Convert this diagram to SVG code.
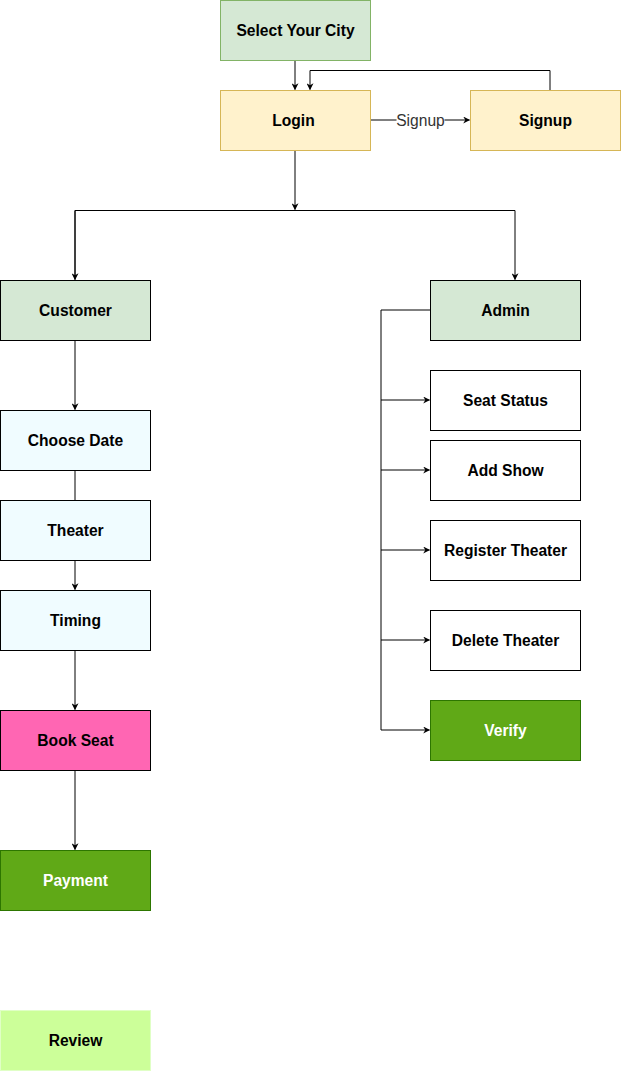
<svg xmlns="http://www.w3.org/2000/svg" width="621" height="1071" viewBox="0 0 621 1071">
<defs>
<style>
.t{font-family:"Liberation Sans",Arial,sans-serif;font-size:15.6px;font-weight:bold;text-anchor:middle;dominant-baseline:central;fill:#000}
.w{fill:#fff}
.c{fill:none;stroke:#000;stroke-width:1}
.lbl{font-family:"Liberation Sans",Arial,sans-serif;font-size:15.6px;text-anchor:middle;dominant-baseline:central;fill:#333}
</style>
<marker id="a" viewBox="0 0 10 10" refX="9" refY="5" markerWidth="7" markerHeight="7" markerUnits="userSpaceOnUse" orient="auto">
<path d="M0,0 L10,5 L0,10 L3,5 Z" fill="#000"/>
</marker>
</defs>
<rect width="621" height="1071" fill="#fff"/>
<g id="connectors" transform="translate(0.5,0.5)">
<path class="c" d="M294.5,60 V89" marker-end="url(#a)"/>
<path class="c" d="M549.5,90 V70 H309.5 V89" marker-end="url(#a)"/>
<path class="c" d="M370,119.5 H469" marker-end="url(#a)"/>
<rect x="396" y="111" width="48" height="18" fill="#fff"/>
<text class="lbl" x="420" y="120">Signup</text>
<path class="c" d="M294.5,150 V209" marker-end="url(#a)"/>
<path class="c" d="M74.5,279 V210 H514.5 V279" marker-end="url(#a)"/>
<path class="c" d="M74.5,210 V279" marker-end="url(#a)"/>
<path class="c" d="M74.5,340 V409" marker-end="url(#a)"/>
<path class="c" d="M74.5,470 V500"/>
<path class="c" d="M74.5,560 V589" marker-end="url(#a)"/>
<path class="c" d="M74.5,650 V709" marker-end="url(#a)"/>
<path class="c" d="M74.5,770 V849" marker-end="url(#a)"/>
<path class="c" d="M430,309.5 H380.5 V729.5 H429" marker-end="url(#a)"/>
<path class="c" d="M380.5,399.5 H429" marker-end="url(#a)"/>
<path class="c" d="M380.5,469.5 H429" marker-end="url(#a)"/>
<path class="c" d="M380.5,549.5 H429" marker-end="url(#a)"/>
<path class="c" d="M380.5,639.5 H429" marker-end="url(#a)"/>
</g>
<g transform="translate(0.5,0.5)">
<g id="select-city"><rect x="220" y="0" width="150" height="60" fill="#d5e8d4" stroke="#82b366"/><text class="t" x="295" y="30">Select Your City</text></g>
<g id="login"><rect x="220" y="90" width="150" height="60" fill="#fff2cc" stroke="#d6b656"/><text class="t" x="293" y="120">Login</text></g>
<g id="signup"><rect x="470" y="90" width="150" height="60" fill="#fff2cc" stroke="#d6b656"/><text class="t" x="545" y="120">Signup</text></g>
<g id="customer"><rect x="0" y="280" width="150" height="60" fill="#d5e8d4" stroke="#000"/><text class="t" x="75" y="310">Customer</text></g>
<g id="admin"><rect x="430" y="280" width="150" height="60" fill="#d5e8d4" stroke="#000"/><text class="t" x="505" y="310">Admin</text></g>
<g id="choose-date"><rect x="0" y="410" width="150" height="60" fill="#f0fcff" stroke="#000"/><text class="t" x="75" y="440">Choose Date</text></g>
<g id="theater"><rect x="0" y="500" width="150" height="60" fill="#f0fcff" stroke="#000"/><text class="t" x="75" y="530">Theater</text></g>
<g id="timing"><rect x="0" y="590" width="150" height="60" fill="#f0fcff" stroke="#000"/><text class="t" x="75" y="620">Timing</text></g>
<g id="book-seat"><rect x="0" y="710" width="150" height="60" fill="#ff66b3" stroke="#000"/><text class="t" x="75" y="740">Book Seat</text></g>
<g id="payment"><rect x="0" y="850" width="150" height="60" fill="#60a917" stroke="#2d7600"/><text class="t w" x="75" y="880">Payment</text></g>
<g id="review"><rect x="0" y="1010" width="150" height="60" fill="#ccff99" stroke="#e0ffc6"/><text class="t" x="75" y="1040">Review</text></g>
<g id="seat-status"><rect x="430" y="370" width="150" height="60" fill="#fff" stroke="#000"/><text class="t" x="505" y="400">Seat Status</text></g>
<g id="add-show"><rect x="430" y="440" width="150" height="60" fill="#fff" stroke="#000"/><text class="t" x="505" y="470">Add Show</text></g>
<g id="register-theater"><rect x="430" y="520" width="150" height="60" fill="#fff" stroke="#000"/><text class="t" x="505" y="550">Register Theater</text></g>
<g id="delete-theater"><rect x="430" y="610" width="150" height="60" fill="#fff" stroke="#000"/><text class="t" x="505" y="640">Delete Theater</text></g>
<g id="verify"><rect x="430" y="700" width="150" height="60" fill="#60a917" stroke="#2d7600"/><text class="t w" x="505" y="730">Verify</text></g>
</g>
</svg>
